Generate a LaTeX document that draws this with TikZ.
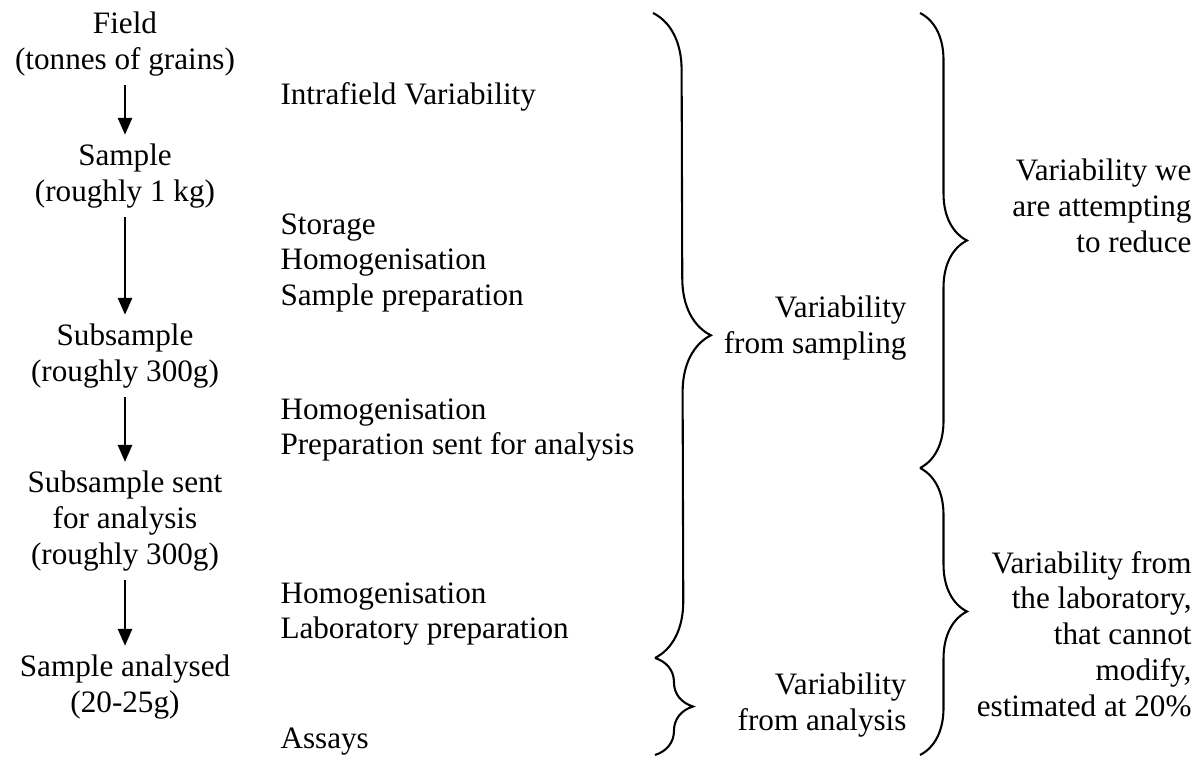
\documentclass[tikz,border=0pt]{standalone}
\usepackage{fontspec}
\setmainfont{Liberation Serif}
\usepackage{tikz}
\usetikzlibrary{
  arrows.meta, decorations.pathreplacing, calc
}
\newcommand{\stagefont}{\fontsize{12}{13.8}\selectfont}

\begin{document}
\begin{tikzpicture}[x=0.385pt, y=0.385pt,
    stage/.style={align=center, font=\stagefont},
    proc/.style={anchor=west, align=left, inner sep=0pt, font=\stagefont},
    varlabel/.style={anchor=east, align=right, inner sep=0pt, font=\stagefont},
    flow/.style={-{Triangle[length=6.5pt, width=5.5pt]}, line width=0.75pt},
    bracket/.style={decorate, decoration={brace, amplitude=#1}, line width=0.8pt}]
  \useasboundingbox (0,0) rectangle (1204,760);

  % sample chain
  \node[stage] (field) at (125,716) {Field\\(tonnes of grains)};
  \node[stage] (sample) at (125,584) {Sample\\(roughly 1 kg)};
  \node[stage] (subsample) at (125,404) {Subsample\\(roughly 300g)};
  \node[stage] (sent) at (125,239) {Subsample sent\\for analysis\\(roughly 300g)};
  \node[stage] (analysed) at (125,73) {Sample analysed\\(20-25g)};

  \draw[flow] (field) -- (sample);
  \draw[flow] (sample) -- (subsample);
  \draw[flow] (subsample) -- (sent);
  \draw[flow] (sent) -- (analysed);

  % operations
  \node[proc] (intra) at (280,663) {Intrafield Variability};
  \node[proc] (storage) at (280,497) {Storage\\Homogenisation\\Sample preparation};
  \node[proc] (prep) at (280,330) {Homogenisation\\Preparation sent for analysis};
  \node[proc] (labprep) at (280,146) {Homogenisation\\Laboratory preparation};
  \node[proc] (assays) at (280,18) {Assays};

  % braces
  \coordinate (b1top) at (653,747);
  \coordinate (b1bot) at (655,102);
  \coordinate (b2bot) at (655,5);
  \coordinate (b3top) at (920,747);
  \coordinate (b3bot) at (920,292);
  \coordinate (b4bot) at (920,5);

  \draw[bracket=21.9pt] (b1top) -- (b1bot);
  \draw[bracket=14.6pt] (b1bot) -- (b2bot);
  \draw[bracket=18.1pt] (b3top) -- (b3bot);
  \draw[bracket=18.1pt] (b3bot) -- (b4bot);

  \node[varlabel] (sampling) at (907,432) {Variability\\from sampling};
  \node[varlabel] (analysis) at (907,55) {Variability\\from analysis};
  \node[varlabel] (reduce) at (1192,554) {Variability we\\are attempting\\to reduce};
  \node[varlabel] (labvar) at (1192,126) {Variability from\\the laboratory,\\that cannot\\modify,\\estimated at 20\%};
\end{tikzpicture}
\end{document}
